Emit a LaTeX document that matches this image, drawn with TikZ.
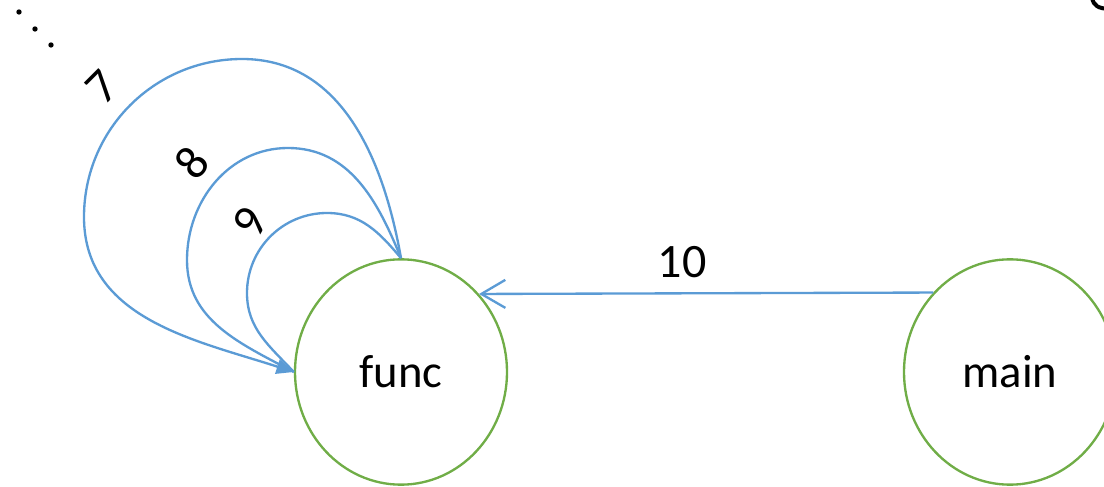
\documentclass[tikz,border=0pt]{standalone}
\usepackage{fontspec}
\setmainfont{Carlito}
\usetikzlibrary{arrows.meta,shapes.geometric}
\definecolor{nodegreen}{HTML}{70AD47}
\definecolor{edgeblue}{HTML}{5B9BD5}
\tikzset{
  fn/.style={ellipse,draw=nodegreen,line width=1.75pt,inner sep=0pt,
    minimum width=159pt,minimum height=169pt,font=\fontsize{35}{40}\selectfont},
  call/.style={draw=edgeblue,line width=1.75pt},
  lbl/.style={inner sep=0pt,font=\fontsize{36}{40}\selectfont},
  dot/.style={fill=black,circle,inner sep=0pt,minimum size=4pt}
}
\begin{document}
\begin{tikzpicture}[x=0.75pt,y=0.75pt]
\useasboundingbox (0,0) rectangle (1104,486);
% function nodes
\node[fn] (func) at (401,114) {func};
\node[fn] (main) at (1010,114) {main};
% call from main to func
\draw[call,-{Straight Barb[length=18pt,width=21pt,line width=1.75pt]}]
  (main.134.6) -- (func.45.4);
\node[lbl] (n10) at (682,224) {10};
% recursive calls of func
\draw[call] (func.north) to[out=130,in=0] (327,273) to[out=180,in=90] (247,193)
  to[out=-90,in=133] (func.west);
\draw[call] (func.north) to[out=112,in=0] (288,338) to[out=180,in=90] (187,226)
  to[out=-90,in=152] (func.west);
\draw[call,-{Triangle[length=13pt,width=11pt]}] (func.north) to[out=100,in=0] (242,427)
  to[out=180,in=90] (84,269) to[out=-90,in=162] (func.west);
% edge labels
\node[lbl,rotate=45] (n7) at (102,399) {7};
\node[lbl,rotate=50] (n8) at (192,323) {8};
\node[lbl,rotate=60] (n9) at (250,264) {9};
% continuation dots
\node[dot] (d1) at (19,474) {};
\node[dot] (d2) at (35,457) {};
\node[dot] (d3) at (51,441) {};
% fragment in the top right corner
\draw[line width=3pt] (1092,488) .. controls (1094,480) and (1098,478) .. (1108,477);
\end{tikzpicture}
\end{document}
